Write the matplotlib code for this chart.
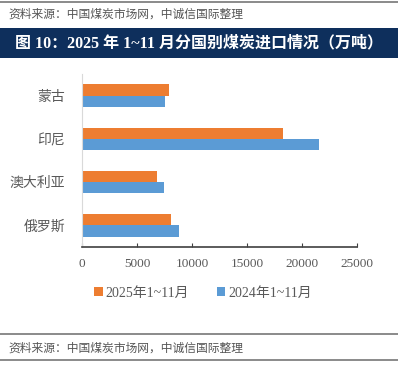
import matplotlib.pyplot as plt
from matplotlib.patches import Rectangle
from matplotlib.lines import Line2D
import numpy as np

plt.rcParams['font.family'] = ['Liberation Serif', 'Noto Sans CJK SC']

countries = ['俄罗斯', '澳大利亚', '印尼', '蒙古']
imports_2025 = [8050, 6840, 18250, 7900]
imports_2024 = [8800, 7420, 21550, 7540]
series_names = ['2025年1~11月', '2024年1~11月']
xticks = [0, 5000, 10000, 15000, 20000, 25000]

W, H = 398, 365
fig = plt.figure(figsize=(W / 100, H / 100), dpi=100)

# header / footer decoration
fig.add_artist(Line2D([0, 1], [1 - 1.5 / H, 1 - 1.5 / H], color='#777777', lw=1.2))
fig.text(8 / W, 1 - 15 / H, '资料来源：中国煤炭市场网，中诚信国际整理', fontsize=8.5,
         color='#555555', style='italic', va='center', ha='left')
fig.add_artist(Rectangle((0, 1 - 58 / H), 1, 30 / H, transform=fig.transFigure,
                         facecolor='#0E2F5C', edgecolor='none'))
fig.text(0.5, 1 - 43 / H, '图 10：2025 年 1~11 月分国别煤炭进口情况（万吨）', fontsize=11.5,
         color='white', fontweight='bold', va='center', ha='center')

fig.add_artist(Line2D([0, 1], [1 - 334 / H, 1 - 334 / H], color='#777777', lw=1.2))
fig.text(8 / W, 1 - 349 / H, '资料来源：中国煤炭市场网，中诚信国际整理', fontsize=8.5,
         color='#555555', style='italic', va='center', ha='left')
fig.add_artist(Line2D([0, 1], [1 - 360 / H, 1 - 360 / H], color='#777777', lw=1.2))

# plot area
ax = fig.add_axes([82 / W, 1 - 247 / H, (357 - 82) / W, (247 - 74) / H])
y = np.arange(len(countries))
h = 0.26
ax.barh(y + h / 2, imports_2025, height=h, color='#ED7D31', label=series_names[0])
ax.barh(y - h / 2, imports_2024, height=h, color='#5B9BD5', label=series_names[1])

ax.set_xlim(0, 25000)
ax.set_ylim(-0.5, len(countries) - 0.5)
ax.set_xticks(xticks)
ax.set_xticklabels([str(v) for v in xticks], fontsize=9.5, color='#595959')
ax.set_yticks(y)
ax.set_yticklabels(countries, fontsize=10, color='#595959')
ax.tick_params(axis='y', length=0, pad=12)
ax.tick_params(axis='x', direction='in', length=3, color='#404040', pad=8)
for s in ['top', 'right']:
    ax.spines[s].set_visible(False)
ax.spines['left'].set_color('#D9D9D9')
ax.spines['bottom'].set_color('#404040')
ax.spines['bottom'].set_linewidth(1.2)

ax.legend(loc='center', bbox_to_anchor=(0.51, 1 - 293 / H), bbox_transform=fig.transFigure,
          ncol=2, frameon=False, fontsize=10, handlelength=0.6, handleheight=0.6,
          handletextpad=0.2, columnspacing=2.0, labelcolor='#595959')

fig.savefig('out.png', dpi=100)
